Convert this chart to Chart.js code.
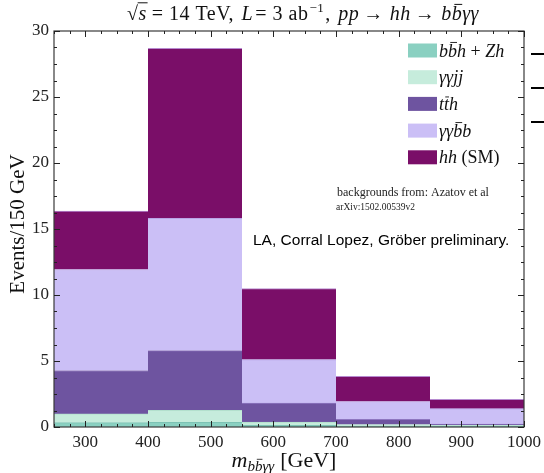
<!DOCTYPE html>
<html>
<head>
<meta charset="utf-8">
<script src="https://cdn.jsdelivr.net/npm/chart.js@4.4.1/dist/chart.umd.min.js"></script>
<style>
  html, body { margin: 0; padding: 0; background: #fff; }
  canvas { display: block; }
</style>
</head>
<body>
<canvas id="c" width="544" height="473"></canvas>
<script>
// Mass bins of m_{bb̄γγ} (GeV), 150 GeV wide
const binLabels = ['250-400', '400-550', '550-700', '700-850', '850-1000'];
const massTicks = [300, 400, 500, 600, 700, 800, 900, 1000];
const yTicks = [0, 5, 10, 15, 20, 25, 30];

// Expected events per bin for each process (stacked bottom to top)
const bbhZh   = [0.33, 0.35, 0.12, 0.07, 0.05];
const aajj    = [0.66, 0.92, 0.26, 0.11, 0.07];
const tth     = [3.29, 4.52, 1.44, 0.40, 0.10];
const aabb    = [7.65, 10.01, 3.29, 1.35, 1.17];
const hhSM    = [4.42, 12.89, 5.38, 1.91, 0.71];

const SERIF = '"Liberation Serif", "Times New Roman", serif';
const SANS = '"Liberation Sans", Arial, sans-serif';

function ds(label, data, fill, edge) {
  return {
    label, data,
    backgroundColor: fill,
    borderColor: edge,
    borderWidth: { top: 1, left: 0, right: 0, bottom: 0 },
    borderSkipped: false,
    barPercentage: 1.0,
    categoryPercentage: 1.0
  };
}

// Legend entries as rich text runs (italic math, with overbars)
const I = (s) => 'italic ' + s + 'px ' + SERIF;
const N = (s) => s + 'px ' + SERIF;
const legendRuns = [
  [{t:'b', f:I(18)}, {t:'b', f:I(18), bar:0.78}, {t:'h', f:I(18)}, {t:' + ', f:N(18)}, {t:'Zh', f:I(18)}],
  [{t:'γγjj', f:I(18)}],
  [{t:'t', f:I(18)}, {t:'t', f:I(18), bar:0.72}, {t:'h', f:I(18)}],
  [{t:'γγ', f:I(18)}, {t:'b', f:I(18), bar:0.78}, {t:'b', f:I(18)}],
  [{t:'hh', f:I(18)}, {t:' (SM)', f:N(18)}]
];

function runWidth(ctx, runs) {
  let w = 0;
  for (const r of runs) { ctx.font = r.f; w += ctx.measureText(r.t).width + (r.gap || 0); }
  return w;
}
function drawRuns(ctx, runs, x, y, align) {
  const w = runWidth(ctx, runs);
  let cx = align === 'center' ? x - w / 2 : (align === 'right' ? x - w : x);
  ctx.textAlign = 'left';
  ctx.textBaseline = 'alphabetic';
  for (const r of runs) {
    ctx.font = r.f;
    const tw = ctx.measureText(r.t).width;
    const yy = y + (r.dy || 0);
    ctx.fillText(r.t, cx, yy);
    if (r.bar) {
      const size = parseFloat(r.f.match(/([\d.]+)px/)[1]);
      const by = yy - size * r.bar;
      ctx.save();
      ctx.lineWidth = Math.max(0.8, size * 0.05);
      ctx.beginPath();
      ctx.moveTo(cx + tw * (r.bx0 !== undefined ? r.bx0 : 0.25), by);
      ctx.lineTo(cx + tw * (r.bx1 !== undefined ? r.bx1 : 1.0), by);
      ctx.stroke();
      ctx.restore();
    }
    cx += tw + (r.gap || 0);
  }
}

const decor = {
  id: 'decor',
  afterDraw(chart) {
    const { ctx, chartArea: a } = chart;
    const xs = chart.scales.mass, ys = chart.scales.y;
    ctx.save();

    // frame
    ctx.strokeStyle = '#3a3a3a';
    ctx.lineWidth = 1.2;
    ctx.strokeRect(a.left, a.top, a.right - a.left, a.bottom - a.top);

    // inward ticks on all four sides
    ctx.strokeStyle = '#222';
    ctx.lineWidth = 1;
    ctx.beginPath();
    for (let v = 250; v <= 1000; v += 25) {
      const px = Math.round(xs.getPixelForValue(v)) + 0.5;
      const len = (v % 100 === 0) ? 6 : 3;
      ctx.moveTo(px, a.bottom); ctx.lineTo(px, a.bottom - len);
      ctx.moveTo(px, a.top); ctx.lineTo(px, a.top + len);
    }
    for (let v = 0; v <= 30; v += 1.25) {
      const py = Math.round(ys.getPixelForValue(v)) + 0.5;
      const len = (v % 5 === 0) ? 6 : 3;
      ctx.moveTo(a.left, py); ctx.lineTo(a.left + len, py);
      ctx.moveTo(a.right, py); ctx.lineTo(a.right - len, py);
    }
    ctx.stroke();

    ctx.fillStyle = '#111';
    ctx.strokeStyle = '#111';

    // title
    ctx.letterSpacing = '0.5px';
    drawRuns(ctx, [
      {t:'√', f:N(20), gap:0},
      {t:'s', f:I(20), bar:0.86, bx0:-0.1, bx1:1.1, gap:5},
      {t:'= 14 TeV, ', f:N(20), gap:2},
      {t:'L', f:I(20), gap:2},
      {t:'= 3 ab', f:N(20), gap:1},
      {t:'−1', f:N(13), dy:-8, gap:1},
      {t:', ', f:N(20), gap:2},
      {t:'pp', f:I(20), gap:4},
      {t:'→', f:N(20), gap:6},
      {t:'hh', f:I(20), gap:4},
      {t:'→', f:N(20), gap:6},
      {t:'b', f:I(20)},
      {t:'b', f:I(20), bar:0.78},
      {t:'γγ', f:I(20)}
    ], 303, 20, 'center');
    ctx.letterSpacing = '0px';

    // x-axis title
    drawRuns(ctx, [
      {t:'m', f:I(22)},
      {t:'b', f:I(15), dy:4},
      {t:'b', f:I(15), dy:4, bar:0.78},
      {t:'γγ', f:I(15), dy:4, gap:6},
      {t:'[GeV]', f:N(22)}
    ], 284, 467, 'center');

    // y-axis title
    ctx.save();
    ctx.translate(24, 224);
    ctx.rotate(-Math.PI / 2);
    ctx.font = N(21);
    ctx.textAlign = 'center';
    ctx.textBaseline = 'alphabetic';
    ctx.fillText('Events/150 GeV', 0, 0);
    ctx.restore();

    // legend drawn from the datasets
    const rowY = [50.5, 77.2, 103.9, 130.6, 157.3];
    chart.data.datasets.forEach((d, i) => {
      ctx.fillStyle = d.backgroundColor;
      ctx.fillRect(408, rowY[i] - 7, 29, 14);
      ctx.fillStyle = '#111';
      drawRuns(ctx, legendRuns[i], 439, rowY[i] + 6, 'left');
    });

    // notes
    ctx.fillStyle = '#222';
    ctx.textAlign = 'left';
    ctx.textBaseline = 'alphabetic';
    ctx.font = N(12);
    ctx.fillText('backgrounds from: Azatov et al', 337, 196);
    ctx.font = N(9.5);
    ctx.fillText('arXiv:1502.00539v2', 336, 210);
    ctx.fillStyle = '#000';
    ctx.font = '15.5px ' + SANS;
    ctx.fillText('LA, Corral Lopez, Gröber preliminary.', 253, 245);

    // partial legend keys of the neighbouring panel
    ctx.strokeStyle = '#000';
    ctx.lineWidth = 2;
    ctx.beginPath();
    [54, 88, 122].forEach(y => { ctx.moveTo(531, y); ctx.lineTo(544, y); });
    ctx.stroke();

    ctx.restore();
  }
};

new Chart(document.getElementById('c'), {
  type: 'bar',
  data: {
    labels: binLabels,
    datasets: [
      ds('bb̄h + Zh', bbhZh, '#8ad0c1', '#7cc2b4'),
      ds('γγjj', aajj, '#c6ecdc', '#b3e0cd'),
      ds('tt̄h', tth, '#6e54a0', '#8e76c0'),
      ds('γγb̄b', aabb, '#cbbff6', '#b9a4e6'),
      ds('hh (SM)', hhSM, '#7a0e68', '#b78ad0')
    ]
  },
  options: {
    responsive: false,
    animation: false,
    layout: { padding: { top: 31, right: 20, left: 0, bottom: 0 } },
    plugins: { legend: { display: false }, tooltip: { enabled: false }, title: { display: false } },
    scales: {
      x: { type: 'category', display: false, stacked: true, offset: true, grid: { display: false } },
      mass: {
        type: 'linear', position: 'bottom', min: 250, max: 1000, offset: false,
        afterBuildTicks: (s) => { s.ticks = massTicks.map(v => ({ value: v })); },
        afterFit: (s) => { s.height = 46; s.paddingRight = 0; },
        grid: { display: false, drawTicks: false, offset: false },
        border: { display: false },
        ticks: { color: '#222', padding: 5, maxRotation: 0, autoSkip: false,
                 callback: (v) => String(v),
                 font: { family: SERIF, size: 17 } }
      },
      y: {
        stacked: true, min: 0, max: 30,
        afterBuildTicks: (s) => { s.ticks = yTicks.map(v => ({ value: v })); },
        afterFit: (s) => { s.width = 54; },
        grid: { display: false, drawTicks: false },
        border: { display: false },
        ticks: { color: '#222', padding: 5, font: { family: SERIF, size: 17 } }
      }
    }
  },
  plugins: [decor]
});
</script>
</body>
</html>
